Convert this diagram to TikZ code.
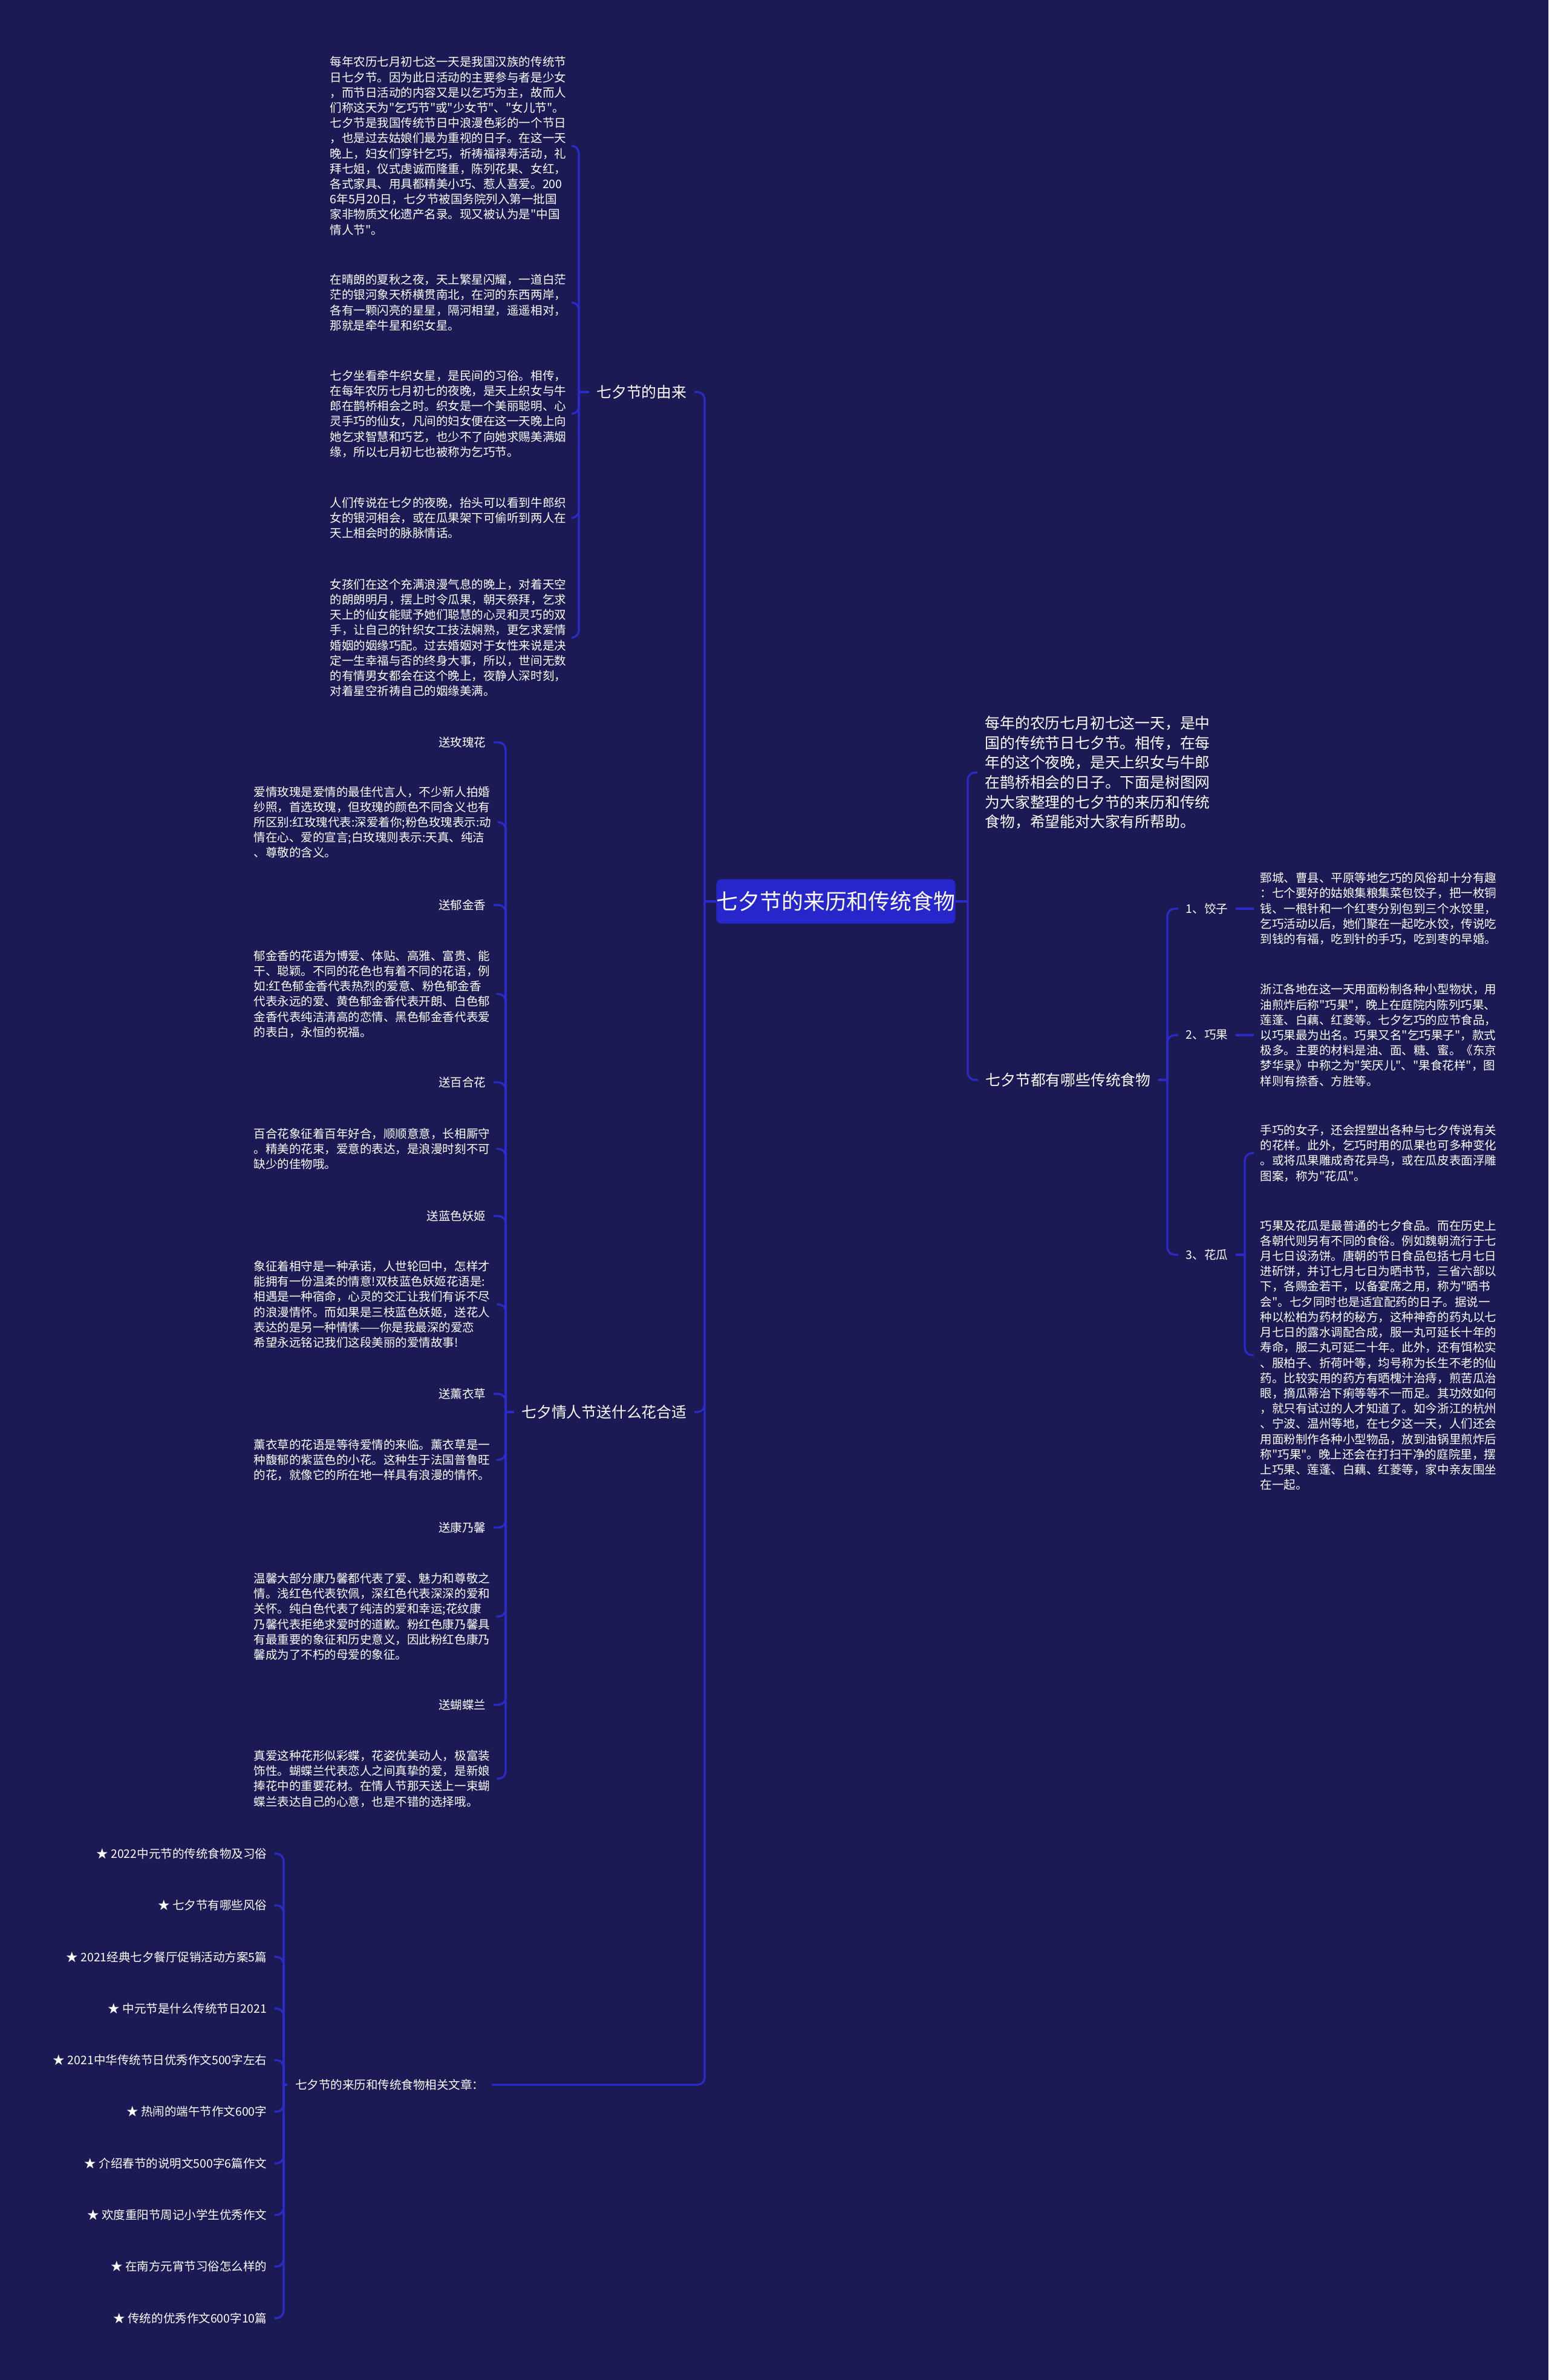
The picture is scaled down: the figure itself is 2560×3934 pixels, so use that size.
\documentclass[tikz,border=0pt]{standalone}
\usepackage{fontspec}
\newfontfamily\cjkfont{Noto Sans CJK SC}
\usetikzlibrary{calc}
\definecolor{bgnavy}{HTML}{1B1A55}
\definecolor{linkblue}{HTML}{2B2BCB}
\definecolor{rootblue}{HTML}{2626CA}

\begin{document}
\begin{tikzpicture}[x=0.01cm, y=-0.01cm,
  every node/.style={text=white},
  body/.style={font=\cjkfont\fontsize{5.55}{7.17}\selectfont, align=left, inner sep=0.1cm},
  tag/.style={font=\cjkfont\fontsize{5.55}{7.17}\selectfont, inner sep=0.12cm},
  head/.style={font=\cjkfont\fontsize{7.05}{9.27}\selectfont, align=left, inner sep=0.12cm},
  link/.style={draw=linkblue, line width=0.9pt, rounded corners=0.12cm}]
  \fill[bgnavy] (0,0) rectangle (2560,3934);
  \useasboundingbox (0,0) rectangle (2560,3934);

  % spines
  \coordinate (sR) at (1600,0);
  \coordinate (sL) at (1165,0);
  \coordinate (sYL) at (957,0);
  \coordinate (sFL) at (836,0);
  \coordinate (sRel) at (469,0);
  \coordinate (sFood) at (1930,0);
  \coordinate (sHG) at (2058,0);

  % root
  \node[fill=rootblue, rounded corners=0.08cm, minimum width=3.95cm, minimum height=0.73cm,
    inner sep=0, font=\cjkfont\fontsize{10.2}{12}\selectfont] (root) at (1382,1490) {七夕节的来历和传统食物};

  % right side
  \node[head, anchor=west] (intro) at (1616,1277) {每年的农历七月初七这一天，是中\\国的传统节日七夕节。相传，在每\\年的这个夜晚，是天上织女与牛郎\\在鹊桥相会的日子。下面是树图网\\为大家整理的七夕节的来历和传统\\食物，希望能对大家有所帮助。};
  \node[head, anchor=west] (foods) at (1617,1785) {七夕节都有哪些传统食物};

  \node[tag, anchor=west] (jiaozi) at (1948,1502) {1、饺子};
  \node[tag, anchor=west] (qiaoguo) at (1948,1711) {2、巧果};
  \node[tag, anchor=west] (huagua) at (1948,2074) {3、花瓜};

  \node[body, anchor=west] (tJiaozi) at (2073,1502) {鄄城、曹县、平原等地乞巧的风俗却十分有趣\\：七个要好的姑娘集粮集菜包饺子，把一枚铜\\钱、一根针和一个红枣分别包到三个水饺里，\\乞巧活动以后，她们聚在一起吃水饺，传说吃\\到钱的有福，吃到针的手巧，吃到枣的早婚。};
  \node[body, anchor=west] (tQiaoguo) at (2073,1711) {浙江各地在这一天用面粉制各种小型物状，用\\油煎炸后称"巧果"，晚上在庭院内陈列巧果、\\莲蓬、白藕、红菱等。七夕乞巧的应节食品，\\以巧果最为出名。巧果又名"乞巧果子"，款式\\极多。主要的材料是油、面、糖、蜜。《东京\\梦华录》中称之为"笑厌儿"、"果食花样"，图\\样则有捺香、方胜等。};
  \node[body, anchor=west] (tHuaguaA) at (2073,1906) {手巧的女子，还会捏塑出各种与七夕传说有关\\的花样。此外，乞巧时用的瓜果也可多种变化\\。或将瓜果雕成奇花异鸟，或在瓜皮表面浮雕\\图案，称为"花瓜"。};
  \node[body, anchor=west] (tHuaguaB) at (2073,2240) {巧果及花瓜是最普通的七夕食品。而在历史上\\各朝代则另有不同的食俗。例如魏朝流行于七\\月七日设汤饼。唐朝的节日食品包括七月七日\\进斫饼，并订七月七日为晒书节，三省六部以\\下，各赐金若干，以备宴席之用，称为"晒书\\会"。七夕同时也是适宜配药的日子。据说一\\种以松柏为药材的秘方，这种神奇的药丸以七\\月七日的露水调配合成，服一丸可延长十年的\\寿命，服二丸可延二十年。此外，还有饵松实\\、服柏子、折荷叶等，均号称为长生不老的仙\\药。比较实用的药方有晒槐汁治痔，煎苦瓜治\\眼，摘瓜蒂治下痢等等不一而足。其功效如何\\，就只有试过的人才知道了。如今浙江的杭州\\、宁波、温州等地，在七夕这一天，人们还会\\用面粉制作各种小型物品，放到油锅里煎炸后\\称"巧果"。晚上还会在打扫干净的庭院里，摆\\上巧果、莲蓬、白藕、红菱等，家中亲友围坐\\在一起。};

  % left side: origin
  \node[head, anchor=east] (youlai) at (1148,648) {七夕节的由来};
  \node[body, anchor=west] (yA) at (535,241) {每年农历七月初七这一天是我国汉族的传统节\\日七夕节。因为此日活动的主要参与者是少女\\，而节日活动的内容又是以乞巧为主，故而人\\们称这天为"乞巧节"或"少女节"、"女儿节"。\\七夕节是我国传统节日中浪漫色彩的一个节日\\，也是过去姑娘们最为重视的日子。在这一天\\晚上，妇女们穿针乞巧，祈祷福禄寿活动，礼\\拜七姐，仪式虔诚而隆重，陈列花果、女红，\\各式家具、用具都精美小巧、惹人喜爱。200\\6年5月20日，七夕节被国务院列入第一批国\\家非物质文化遗产名录。现又被认为是"中国\\情人节"。};
  \node[body, anchor=west] (yB) at (535,500) {在晴朗的夏秋之夜，天上繁星闪耀，一道白茫\\茫的银河象天桥横贯南北，在河的东西两岸，\\各有一颗闪亮的星星，隔河相望，遥遥相对，\\那就是牵牛星和织女星。};
  \node[body, anchor=west] (yC) at (535,684) {七夕坐看牵牛织女星，是民间的习俗。相传，\\在每年农历七月初七的夜晚，是天上织女与牛\\郎在鹊桥相会之时。织女是一个美丽聪明、心\\灵手巧的仙女，凡间的妇女便在这一天晚上向\\她乞求智慧和巧艺，也少不了向她求赐美满姻\\缘，所以七月初七也被称为乞巧节。};
  \node[body, anchor=west] (yD) at (535,856) {人们传说在七夕的夜晚，抬头可以看到牛郎织\\女的银河相会，或在瓜果架下可偷听到两人在\\天上相会时的脉脉情话。};
  \node[body, anchor=west] (yE) at (535,1054) {女孩们在这个充满浪漫气息的晚上，对着天空\\的朗朗明月，摆上时令瓜果，朝天祭拜，乞求\\天上的仙女能赋予她们聪慧的心灵和灵巧的双\\手，让自己的针织女工技法娴熟，更乞求爱情\\婚姻的姻缘巧配。过去婚姻对于女性来说是决\\定一生幸福与否的终身大事，所以，世间无数\\的有情男女都会在这个晚上，夜静人深时刻，\\对着星空祈祷自己的姻缘美满。};

  % left side: flowers
  \node[head, anchor=east] (flower) at (1148,2334) {七夕情人节送什么花合适};
  \foreach \n/\t/\y in {fA/送玫瑰花/1227, fB/送郁金香/1496, fC/送百合花/1789, fD/送蓝色妖姬/2010,
                        fE/送薰衣草/2304, fF/送康乃馨/2525, fG/送蝴蝶兰/2818}
    \node[tag, anchor=east] (\n) at (816,\y) {\t};
  \node[body, anchor=west] (gA) at (409,1359) {爱情玫瑰是爱情的最佳代言人，不少新人拍婚\\纱照，首选玫瑰，但玫瑰的颜色不同含义也有\\所区别:红玫瑰代表:深爱着你;粉色玫瑰表示:动\\情在心、爱的宣言;白玫瑰则表示:天真、纯洁\\、尊敬的含义。};
  \node[body, anchor=west] (gB) at (409,1643) {郁金香的花语为博爱、体贴、高雅、富贵、能\\干、聪颖。不同的花色也有着不同的花语，例\\如:红色郁金香代表热烈的爱意、粉色郁金香\\代表永远的爱、黄色郁金香代表开朗、白色郁\\金香代表纯洁清高的恋情、黑色郁金香代表爱\\的表白，永恒的祝福。};
  \node[body, anchor=west] (gC) at (409,1899) {百合花象征着百年好合，顺顺意意，长相厮守\\。精美的花束，爱意的表达，是浪漫时刻不可\\缺少的佳物哦。};
  \node[body, anchor=west] (gD) at (409,2156) {象征着相守是一种承诺，人世轮回中，怎样才\\能拥有一份温柔的情意!双枝蓝色妖姬花语是:\\相遇是一种宿命，心灵的交汇让我们有诉不尽\\的浪漫情怀。而如果是三枝蓝色妖姬，送花人\\表达的是另一种情愫——你是我最深的爱恋\\希望永远铭记我们这段美丽的爱情故事!};
  \node[body, anchor=west] (gE) at (409,2413) {薰衣草的花语是等待爱情的来临。薰衣草是一\\种馥郁的紫蓝色的小花。这种生于法国普鲁旺\\的花，就像它的所在地一样具有浪漫的情怀。};
  \node[body, anchor=west] (gF) at (409,2672) {温馨大部分康乃馨都代表了爱、魅力和尊敬之\\情。浅红色代表钦佩，深红色代表深深的爱和\\关怀。纯白色代表了纯洁的爱和幸运;花纹康\\乃馨代表拒绝求爱时的道歉。粉红色康乃馨具\\有最重要的象征和历史意义，因此粉红色康乃\\馨成为了不朽的母爱的象征。};
  \node[body, anchor=west] (gG) at (409,2940) {真爱这种花形似彩蝶，花姿优美动人，极富装\\饰性。蝴蝶兰代表恋人之间真挚的爱，是新娘\\捧花中的重要花材。在情人节那天送上一束蝴\\蝶兰表达自己的心意，也是不错的选择哦。};

  % left side: related articles
  \node[tag, anchor=east] (related) at (813,3446) {七夕节的来历和传统食物相关文章：};
  \foreach \t [count=\i] in {{2022中元节的传统食物及习俗}, {七夕节有哪些风俗}, {2021经典七夕餐厅促销活动方案5篇},
      {中元节是什么传统节日2021}, {2021中华传统节日优秀作文500字左右}, {热闹的端午节作文600字},
      {介绍春节的说明文500字6篇作文}, {欢度重阳节周记小学生优秀作文}, {在南方元宵节习俗怎么样的},
      {传统的优秀作文600字10篇}}
    \node[tag, anchor=east] (r\i) at (454,{3064+(\i-1)*85.3}) {★ \t};

  % connectors
  \draw[link] (root.east) -- (root.east -| sR);
  \foreach \c in {intro,foods} \draw[link] (root.east -| sR) |- (\c.west);
  \draw[link] (foods.east) -- (foods.east -| sFood);
  \foreach \c in {jiaozi,qiaoguo,huagua} \draw[link] (foods.east -| sFood) |- (\c.west);
  \draw[link] (jiaozi.east) -- (tJiaozi.west);
  \draw[link] (qiaoguo.east) -- (tQiaoguo.west);
  \draw[link] (huagua.east) -- (huagua.east -| sHG);
  \foreach \c in {tHuaguaA,tHuaguaB} \draw[link] (huagua.east -| sHG) |- (\c.west);

  \draw[link] (root.west) -- (root.west -| sL);
  \foreach \c in {youlai,flower,related} \draw[link] (root.west -| sL) |- (\c.east);
  \draw[link] (youlai.west) -- (youlai.west -| sYL);
  \foreach \c in {yA,yB,yC,yD,yE} \draw[link] (youlai.west -| sYL) |- (\c.east);
  \draw[link] (flower.west) -- (flower.west -| sFL);
  \foreach \c in {fA,gA,fB,gB,fC,gC,fD,gD,fE,gE,fF,gF,fG,gG} \draw[link] (flower.west -| sFL) |- (\c.east);
  \draw[link] (related.west) -- (related.west -| sRel);
  \foreach \i in {1,...,10} \draw[link] (related.west -| sRel) |- (r\i.east);
\end{tikzpicture}
\end{document}
